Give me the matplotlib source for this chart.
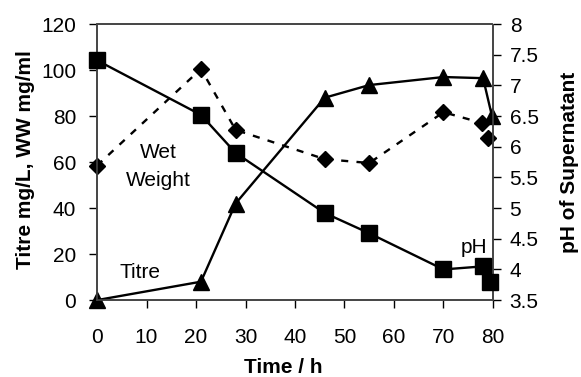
import numpy as np
import matplotlib.pyplot as plt

plt.rcParams['font.family'] = ['Liberation Sans', 'DejaVu Sans']

# titre (left axis), triangles
titre_t = [0, 21, 28, 46, 55, 70, 78, 79.8]
titre = [0, 8, 42, 88, 93.5, 97, 96.5, 80]

# wet weight (left axis), diamonds, dashed
ww_t = [0, 21, 28, 46, 55, 70, 77.8, 79]
ww = [58.5, 100.5, 74, 61.3, 59.6, 81.7, 77, 70.4]

# pH of supernatant (right axis), squares
ph_t = [0, 21, 28, 46, 55, 70, 78, 79.4]
ph = [7.41, 6.52, 5.9, 4.92, 4.59, 4.0, 4.05, 3.79]

x_ticks = np.arange(0, 81, 10)
left_ticks = np.arange(0, 121, 20)
right_ticks = np.arange(3.5, 8.01, 0.5)
right_labels = ['3.5', '4', '4.5', '5', '5.5', '6', '6.5', '7', '7.5', '8']


def main():
    fig = plt.figure(figsize=(5.81, 3.77), dpi=100)
    ax = fig.add_subplot(111)
    fig.subplots_adjust(left=0.167, right=0.8485, bottom=0.204, top=0.936)
    ax2 = ax.twinx()

    ax.plot(titre_t, titre, color='black', lw=1.7, marker='^', ms=11,
            clip_on=False, zorder=3)
    ax.plot(ww_t, ww, color='black', lw=1.7, ls=(0, (3, 3.5)), marker='D',
            ms=8, clip_on=False, zorder=3)
    ax2.plot(ph_t, ph, color='black', lw=1.7, marker='s', ms=11,
             clip_on=False, zorder=3)

    ax.set_xlim(0, 80)
    ax.set_ylim(0, 120)
    ax2.set_ylim(3.5, 8)
    ax.set_xticks(x_ticks)
    ax.set_yticks(left_ticks)
    ax2.set_yticks(right_ticks)
    ax2.set_yticklabels(right_labels)

    for a in (ax, ax2):
        for side in ['top', 'bottom', 'left', 'right']:
            a.spines[side].set_linestyle((0, (1, 1)))
            a.spines[side].set_linewidth(1.2)
            a.spines[side].set_color('#444444')
        a.tick_params(direction='out', length=6, width=1, labelsize=15)
    ax.tick_params(axis='x', pad=14)
    ax.tick_params(axis='y', pad=9)
    ax2.tick_params(axis='y', pad=6)

    ax.text(12.3, 64, 'Wet', fontsize=15, ha='center', va='center')
    ax.text(12.3, 52, 'Weight', fontsize=15, ha='center', va='center')
    ax.text(8.7, 12, 'Titre', fontsize=15, ha='center', va='center')
    # pH label sits on top of the squares
    ax2.text(76.2, 4.35, 'pH', fontsize=15, ha='center', va='center',
             zorder=5)

    ax.set_xlabel('Time / h', fontsize=15, fontweight='bold')
    ax.set_ylabel('Titre mg/L, WW mg/ml', fontsize=15, fontweight='bold')
    ax2.set_ylabel('pH of Supernatant', fontsize=15, fontweight='bold')
    ax.xaxis.set_label_coords(0.47, -0.21)
    ax.yaxis.set_label_coords(-0.157, 0.51)
    ax2.yaxis.set_label_coords(1.169, 0.5)

    fig.savefig('out.png', dpi=100)


if __name__ == "__main__":
    main()
